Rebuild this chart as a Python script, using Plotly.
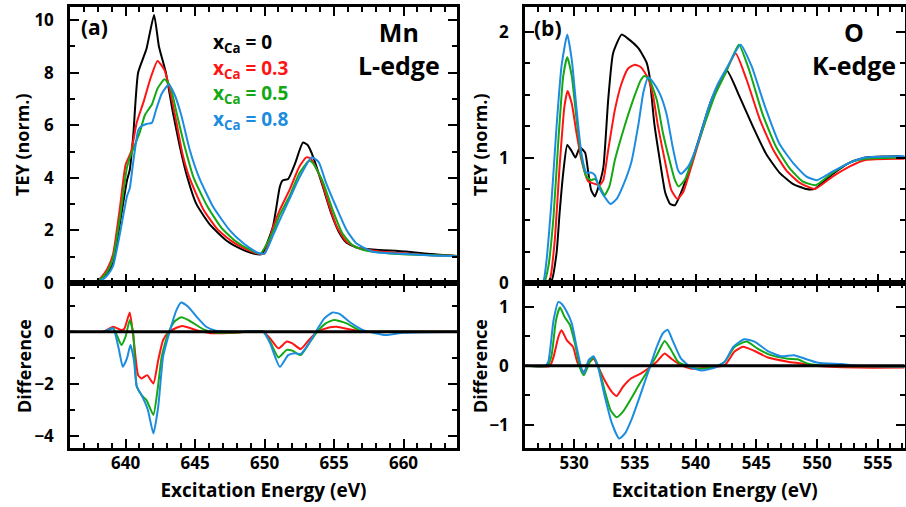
import plotly.graph_objects as go

# ---------------- Panel (a): Mn L-edge ----------------
ea_0 = [636, 637, 637.8, 638.3, 638.7, 639.1, 639.6, 640.1, 640.3, 640.55, 640.9, 641.5, 642.05, 642.4, 642.9, 643.4, 643.9, 644.4, 645.1, 646.1, 647.3, 648.3, 649.2, 649.8, 650.6, 651.1, 651.3, 651.7, 652.2, 652.76, 653.1, 653.5, 654.2, 654.8, 655.4, 655.9, 656.8, 658.3, 660.2, 662, 664]
ta_0 = [0, 0, 0.03, 0.2, 0.4, 0.75, 2.3, 3.9, 4.3, 5.6, 8.0, 8.9, 10.2, 9.0, 8.0, 6.5, 5.2, 4.1, 3.0, 2.2, 1.6, 1.3, 1.12, 1.1, 2.14, 3.66, 3.9, 3.96, 4.55, 5.34, 5.25, 4.8, 3.66, 2.65, 1.89, 1.53, 1.32, 1.26, 1.2, 1.1, 1.02]

ea_3 = [636, 637, 637.8, 638.3, 638.7, 639.1, 639.6, 640.0, 640.4, 640.8, 641.3, 641.8, 642.3, 642.8, 643.2, 643.7, 644.1, 644.6, 645.6, 646.6, 647.6, 648.6, 649.5, 650.0, 650.6, 651.1, 651.8, 652.5, 653.0, 653.3, 654.0, 654.6, 655.2, 655.9, 656.8, 658.3, 660.2, 662, 664]
ta_3 = [0, 0, 0.04, 0.25, 0.55, 1.1, 2.9, 4.5, 5.0, 6.1, 6.9, 7.8, 8.45, 8.1, 7.3, 6.0, 4.9, 4.0, 2.8, 2.05, 1.6, 1.3, 1.12, 1.12, 2.1, 2.78, 3.54, 4.42, 4.78, 4.75, 4.04, 3.03, 2.14, 1.57, 1.32, 1.2, 1.12, 1.06, 1.02]

ea_5 = [636, 637, 637.8, 638.3, 638.7, 639.1, 639.6, 640.1, 640.4, 641.0, 641.4, 641.9, 642.3, 642.8, 643.2, 643.7, 644.2, 644.9, 645.9, 646.9, 647.9, 648.9, 649.7, 650.6, 651.1, 651.8, 652.5, 653.2, 653.5, 654.2, 654.9, 655.6, 656.3, 657.2, 659, 661, 664]
ta_5 = [0, 0, 0.03, 0.2, 0.45, 0.95, 2.5, 4.4, 4.9, 5.7, 6.4, 6.8, 7.4, 7.75, 7.5, 6.4, 5.3, 4.0, 2.9, 2.1, 1.6, 1.28, 1.12, 1.95, 2.6, 3.3, 4.17, 4.65, 4.55, 3.85, 2.78, 1.89, 1.45, 1.24, 1.12, 1.07, 1.02]

ea_8 = [636, 637, 637.8, 638.3, 638.7, 639.1, 639.6, 640.1, 640.3, 640.55, 640.9, 641.1, 641.5, 641.9, 642.2, 642.6, 643.1, 643.5, 644.0, 644.6, 645.3, 646.3, 647.5, 648.5, 649.5, 650.0, 650.6, 651.1, 651.8, 652.5, 653.4, 653.9, 654.4, 655.15, 655.9, 656.6, 657.8, 660.2, 662, 664]
ta_8 = [0, 0, 0.02, 0.12, 0.3, 0.65, 1.9, 3.3, 3.6, 4.6, 5.8, 5.95, 6.05, 6.1, 6.6, 7.2, 7.55, 7.2, 6.4, 5.1, 4.0, 2.9, 2.0, 1.5, 1.15, 1.12, 1.8, 2.4, 3.2, 4.0, 4.78, 4.6, 3.85, 2.9, 2.02, 1.51, 1.19, 1.1, 1.05, 1.02]

da_3_e = [636, 638.4, 639.1, 639.7, 639.9, 640.3, 640.6, 640.9, 641.15, 641.55, 642.0, 642.35, 642.7, 643.06, 643.66, 644.1, 645.1, 646.1, 647.5, 649.9, 650.4, 651.0, 651.6, 652.0, 652.6, 653.2, 653.8, 654.7, 655.2, 656.1, 657.1, 660, 664]
da_3 = [0, 0, 0.19, 0.06, 0.1, 0.74, -0.4, -1.67, -1.8, -1.67, -1.99, -1.09, -0.32, -0.04, 0.15, 0.22, 0.06, -0.06, -0.05, 0, -0.26, -0.64, -0.38, -0.45, -0.67, -0.32, 0, 0.17, 0.19, 0.09, 0, 0, 0]

da_5_e = [636, 638.4, 639.1, 639.7, 640.0, 640.3, 640.55, 640.8, 641.15, 641.5, 642.0, 642.3, 642.6, 643.06, 643.5, 644.0, 644.6, 645.6, 646.5, 648, 649.9, 650.4, 651.0, 651.6, 652.0, 652.6, 653.2, 653.8, 654.4, 655.0, 655.9, 656.8, 657.3, 660, 664]
da_5 = [0, 0, 0.13, -0.51, -0.19, 0.45, -0.06, -2.1, -2.44, -2.63, -3.2, -2.24, -0.96, -0.06, 0.38, 0.55, 0.42, 0.09, -0.04, -0.03, 0, -0.38, -0.99, -0.7, -0.73, -0.9, -0.45, 0, 0.32, 0.45, 0.32, 0.06, 0, 0, 0]

da_8_e = [636, 638.4, 639.1, 639.5, 639.8, 640.1, 640.35, 640.6, 640.8, 641.15, 641.6, 642.0, 642.35, 642.7, 643.2, 643.66, 644.0, 644.5, 645.1, 645.8, 646.5, 648, 649.9, 650.4, 651.1, 651.7, 652.2, 652.6, 653.2, 653.7, 654.3, 654.9, 655.4, 656.1, 657.1, 658.7, 660, 664]
da_8 = [0, 0, 0.13, -0.64, -1.35, -1.03, -0.51, -1.09, -2.1, -2.44, -3.0, -3.91, -2.88, -0.96, 0.06, 0.83, 1.12, 0.96, 0.58, 0.19, 0.04, 0, 0, -0.45, -1.35, -0.9, -0.83, -0.86, -0.45, 0, 0.51, 0.74, 0.68, 0.38, 0.06, -0.13, -0.04, 0]

# ---------------- Panel (b): O K-edge ----------------
eb_0 = [526, 527.6, 528.14, 528.55, 528.8, 529.1, 529.43, 529.8, 530.1, 530.47, 530.9, 531.16, 531.4, 531.7, 531.98, 532.4, 532.8, 533.2, 533.9, 534.4, 535.3, 535.95, 536.2, 536.6, 537.05, 537.5, 537.9, 538.3, 538.8, 539.65, 540.5, 541.3, 542.0, 542.6, 543.6, 544.7, 545.8, 546.9, 548.0, 549.1, 549.8, 551.3, 552.7, 554.0, 556.8, 557.3]
tb_0 = [0, 0, 0.02, 0.24, 0.56, 0.88, 1.1, 1.05, 1.0, 1.08, 1.04, 0.88, 0.74, 0.69, 0.76, 0.92, 1.46, 1.83, 1.98, 1.95, 1.87, 1.76, 1.65, 1.27, 0.98, 0.72, 0.63, 0.62, 0.72, 0.95, 1.22, 1.46, 1.6, 1.69, 1.49, 1.25, 1.03, 0.88, 0.79, 0.75, 0.75, 0.87, 0.96, 1.0, 1.01, 1.0]

eb_3 = [526, 527.6, 528.0, 528.4, 528.8, 529.2, 529.46, 529.8, 530.2, 530.6, 531.15, 531.7, 532.1, 532.4, 532.8, 533.35, 533.9, 534.44, 535.0, 535.5, 536.1, 536.5, 536.9, 537.5, 538.0, 538.5, 539.0, 539.65, 540.5, 541.3, 542.3, 543.3, 544.2, 545.3, 546.4, 547.45, 548.55, 549.8, 551.3, 552.7, 554.0, 556.8, 557.3]
tb_3 = [0, 0, 0.03, 0.34, 0.93, 1.41, 1.53, 1.43, 1.19, 0.98, 0.81, 0.79, 0.78, 0.82, 1.06, 1.38, 1.59, 1.71, 1.74, 1.72, 1.63, 1.49, 1.25, 0.96, 0.74, 0.67, 0.73, 0.93, 1.2, 1.45, 1.65, 1.83, 1.62, 1.3, 1.06, 0.9, 0.8, 0.75, 0.85, 0.93, 0.98, 0.99, 0.99]

eb_5 = [526, 527.5, 527.87, 528.3, 528.7, 529.1, 529.43, 529.8, 530.2, 530.6, 531.0, 531.4, 531.7, 532.1, 532.5, 532.9, 533.35, 533.9, 534.44, 535.0, 535.5, 535.8, 536.2, 536.8, 537.3, 537.9, 538.3, 538.6, 539.1, 539.9, 540.75, 541.6, 542.5, 543.56, 544.4, 545.5, 546.6, 547.7, 548.8, 549.9, 551.3, 552.7, 554.0, 556.8, 557.3]
tb_5 = [0, 0, 0.13, 0.53, 1.14, 1.65, 1.8, 1.65, 1.3, 1.0, 0.85, 0.82, 0.83, 0.77, 0.70, 0.77, 0.98, 1.17, 1.34, 1.5, 1.62, 1.65, 1.62, 1.46, 1.2, 0.96, 0.82, 0.77, 0.82, 1.03, 1.27, 1.5, 1.68, 1.9, 1.7, 1.35, 1.09, 0.92, 0.81, 0.78, 0.88, 0.96, 0.99, 1.0, 1.0]

eb_8 = [526, 527.4, 527.7, 528.14, 528.55, 528.96, 529.43, 529.8, 530.2, 530.6, 531.0, 531.4, 531.7, 532.1, 532.7, 533.0, 533.5, 534.0, 534.7, 535.3, 535.7, 536.1, 536.5, 537.05, 537.6, 538.1, 538.55, 538.8, 539.4, 540.2, 541.0, 541.8, 542.6, 543.7, 544.6, 545.7, 546.9, 548.0, 549.1, 550.0, 551.3, 552.7, 554.0, 556.8, 557.3]
tb_8 = [0, 0, 0.16, 0.66, 1.25, 1.73, 1.98, 1.78, 1.38, 1.03, 0.88, 0.88, 0.86, 0.75, 0.66, 0.63, 0.67, 0.77, 0.96, 1.27, 1.52, 1.64, 1.6, 1.51, 1.35, 1.09, 0.9, 0.87, 0.93, 1.12, 1.38, 1.58, 1.72, 1.9, 1.73, 1.41, 1.11, 0.96, 0.85, 0.82, 0.89, 0.96, 1.0, 1.01, 1.01]

db_3_e = [526, 528.0, 528.3, 528.7, 528.96, 529.4, 529.9, 530.3, 530.8, 531.3, 531.6, 531.98, 532.5, 533.1, 533.5, 534.03, 534.7, 535.5, 536.2, 536.8, 537.45, 538.0, 538.8, 539.65, 541.0, 542.4, 543.2, 543.9, 544.85, 545.95, 547.6, 548.7, 549.8, 553.3, 557.3]
db_3 = [0, 0, 0.15, 0.49, 0.6, 0.43, 0.32, 0.04, -0.1, 0.07, 0.12, -0.02, -0.24, -0.44, -0.51, -0.35, -0.21, -0.13, -0.03, 0.07, 0.21, 0.12, 0.01, -0.05, -0.03, 0.01, 0.24, 0.32, 0.25, 0.14, 0.07, 0.04, 0, -0.03, -0.03]

db_5_e = [526, 527.8, 528.14, 528.5, 528.83, 529.2, 529.65, 530.06, 530.5, 530.8, 531.3, 531.6, 532.0, 532.5, 533.0, 533.5, 534.0, 534.7, 535.4, 536.1, 536.8, 537.45, 538.0, 538.55, 539.65, 540.5, 541.6, 542.4, 543.2, 544.2, 545.1, 546.2, 547.6, 548.4, 549.2, 550.6, 557.3]
db_5 = [0, 0, 0.18, 0.77, 0.99, 0.83, 0.69, 0.38, -0.05, -0.16, 0.07, 0.14, -0.02, -0.41, -0.75, -0.87, -0.78, -0.55, -0.3, -0.07, 0.18, 0.42, 0.26, 0.07, -0.03, -0.05, -0.02, 0.07, 0.32, 0.41, 0.29, 0.18, 0.12, 0.11, 0.04, 0, -0.01]

db_8_e = [526, 527.6, 527.87, 528.3, 528.7, 528.96, 529.4, 529.8, 530.2, 530.6, 530.8, 531.2, 531.6, 532.0, 532.5, 533.1, 533.7, 534.2, 534.7, 535.4, 536.1, 536.8, 537.3, 537.7, 538.1, 538.8, 539.65, 540.5, 541.6, 542.4, 543.1, 544.0, 544.85, 545.95, 547.05, 548.1, 549.0, 550.1, 552.0, 553.3, 557.3]
db_8 = [0, 0, 0.07, 0.77, 1.08, 1.05, 0.91, 0.72, 0.32, -0.05, -0.13, 0.1, 0.16, -0.05, -0.5, -0.97, -1.23, -1.14, -0.92, -0.52, -0.1, 0.32, 0.55, 0.61, 0.43, 0.12, -0.03, -0.08, -0.03, 0.07, 0.32, 0.45, 0.41, 0.25, 0.16, 0.18, 0.12, 0.05, 0.03, 0, -0.01]

legend_labels = ["x<sub>Ca</sub> = 0", "x<sub>Ca</sub> = 0.3", "x<sub>Ca</sub> = 0.5", "x<sub>Ca</sub> = 0.8"]
colors = ["#000000", "#ff1414", "#14a814", "#1c8ce0"]
x_title = "Excitation Energy (eV)"

W, H = 906, 507
FONT = "Open Sans"

fig = go.Figure()

def add(x, y, color, xa, ya):
    fig.add_trace(go.Scatter(x=x, y=y, mode="lines", xaxis=xa, yaxis=ya,
                             line=dict(color=color, width=2, shape="spline", smoothing=0.5),
                             showlegend=False, hoverinfo="skip"))

for (x, y), c in zip([(ea_0, ta_0), (ea_3, ta_3), (ea_5, ta_5), (ea_8, ta_8)], colors):
    add(x, y, c, "x", "y")
for (x, y), c in zip([(da_3_e, da_3), (da_5_e, da_5), (da_8_e, da_8)], colors[1:]):
    add(x, y, c, "x2", "y2")
for (x, y), c in zip([(eb_0, tb_0), (eb_3, tb_3), (eb_5, tb_5), (eb_8, tb_8)], colors):
    add(x, y, c, "x3", "y3")
for (x, y), c in zip([(db_3_e, db_3), (db_5_e, db_5), (db_8_e, db_8)], colors[1:]):
    add(x, y, c, "x4", "y4")

def px_x(p):
    return p / W

def px_y(p):
    return 1 - p / H

tickfont = dict(family=FONT, size=17, color="black", weight="bold")

def axis(domain, rng, dtick, mdtick, anchor, labels=True, tick0=None, standoff=6, title=None):
    d = dict(domain=domain, range=rng, anchor=anchor, showline=True, linecolor="black",
             linewidth=2.5, mirror="allticks", ticks="inside", ticklen=9, tickwidth=2,
             tickcolor="black", dtick=dtick, showgrid=False, zeroline=False, automargin=False,
             showticklabels=labels, tickfont=tickfont, ticklabelstandoff=standoff,
             minor=dict(ticks="inside", ticklen=5, tickwidth=2, tickcolor="black", dtick=mdtick))
    if tick0 is not None:
        d["tick0"] = tick0
        d["minor"]["tick0"] = tick0
    if title is not None:
        d["title"] = dict(text=title, standoff=11,
                          font=dict(family=FONT, size=19, color="black", weight="bold"))
    return d

xa_dom = [px_x(70), px_x(457)]
xb_dom = [px_x(525), px_x(904.5)]
top_dom = [px_y(283), px_y(7)]
bot_dom = [px_y(448), px_y(283)]

fig.update_layout(
    width=W, height=H, margin=dict(l=0, r=0, t=0, b=0),
    paper_bgcolor="white", plot_bgcolor="white",
    xaxis=axis(xa_dom, [636, 663.85], 5, 1, "y", labels=False, tick0=640),
    yaxis=axis(top_dom, [0, 10.5], 2, 1, "x", standoff=10),
    xaxis2=axis(xa_dom, [636, 663.85], 5, 1, "y2", tick0=640, standoff=-2, title=x_title),
    yaxis2=axis(bot_dom, [-4.47, 1.87], 2, 1, "x2", standoff=10),
    xaxis3=axis(xb_dom, [525.95, 557.2], 5, 1, "y3", labels=False, tick0=530),
    yaxis3=axis(top_dom, [0, 2.2], 1, 0.25, "x3", standoff=10),
    xaxis4=axis(xb_dom, [525.95, 557.2], 5, 1, "y4", tick0=530, standoff=-2, title=x_title),
    yaxis4=axis(bot_dom, [-1.39, 1.40], 1, 0.5, "x4", standoff=10),
)

# zero reference lines in the difference panels
for xr, yr in [("x2 domain", "y2"), ("x4 domain", "y4")]:
    fig.add_shape(type="line", xref=xr, yref=yr, x0=0, x1=1, y0=0, y1=0,
                  line=dict(color="black", width=3), layer="above")

def ann(text, x, y, size, color="black", xanchor="center", angle=0, yanchor="middle"):
    fig.add_annotation(text=text, x=px_x(x), y=px_y(y), xref="paper", yref="paper",
                       showarrow=False, xanchor=xanchor, yanchor=yanchor, textangle=angle,
                       borderpad=0, align="center",
                       font=dict(family=FONT, size=size, color=color, weight="bold"))

ann("(a)", 80, 27, 21, xanchor="left")
ann("(b)", 533, 28, 21, xanchor="left")
ann("Mn<br>L-edge", 399, 48, 25)
ann("O<br>K-edge", 854, 48, 25)
for i, (lab, c) in enumerate(zip(legend_labels, colors)):
    ann(lab, 212, 43 + i * 25.7, 19, color=c, xanchor="left")

ann("TEY (norm.)", 22, 145, 18, angle=-90)
ann("Difference", 24, 366, 18, angle=-90)
ann("TEY (norm.)", 480, 145, 18, angle=-90)
ann("Difference", 480, 366, 18, angle=-90)

fig.write_html("out.html")
